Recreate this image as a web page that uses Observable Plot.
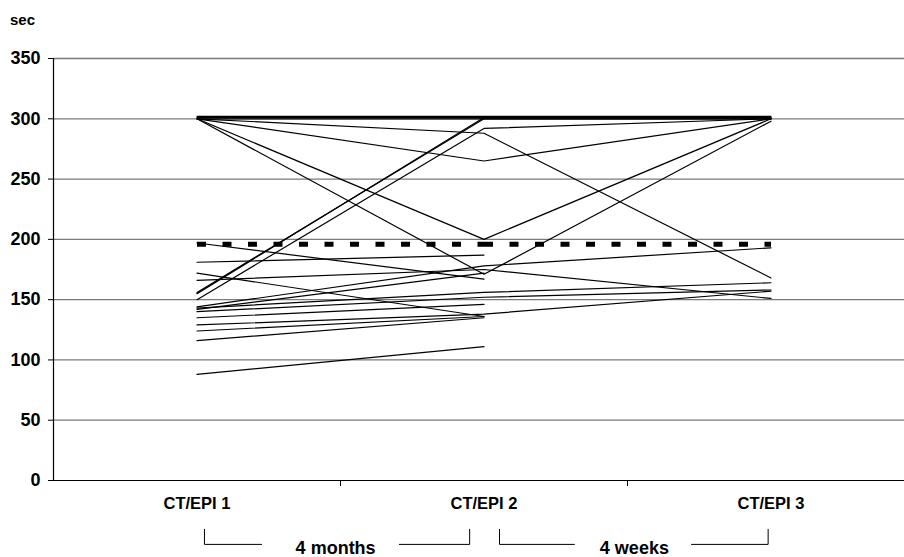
<!DOCTYPE html>
<html><head><meta charset="utf-8">
<script src="https://cdn.jsdelivr.net/npm/d3@7"></script>
<script src="https://cdn.jsdelivr.net/npm/@observablehq/plot@0.6"></script>
<style>
body{margin:0;background:#fff}
svg{font-family:"Liberation Sans",Arial,Helvetica,sans-serif}
</style>
</head><body><div id="chart"></div>
<script>
const sessions = ["CT/EPI 1", "CT/EPI 2", "CT/EPI 3"];
// seconds per subject at each session (null = not measured)
const ct1 = [302, 301, 300, 300, 300, 300, 300, 156, 155, 150, 197, 181, 172, 166, 144, 143, 142, 140, 135, 129, 124, 116, 88];
const ct2 = [302, 301, 300, 288, 265, 200, 171, 300, 301, 292, 167, 187, 136, 175, 178, 156, 172, 152, 146, 138, 136, 135, 111];
const ct3 = [302, 301, 300, 168, 300, 300, 298, 300, 301, 300, null, null, null, 151, 193, 164, null, 158, null, 157, null, null, null];
const meanValue = 196;
const yTicks = [0, 50, 100, 150, 200, 250, 300, 350];
const intervalLabels = ["4 months", "4 weeks"];

const points = [];
ct1.forEach((v, i) => {
  [v, ct2[i], ct3[i]].forEach((val, t) => {
    if (val != null) points.push({subject: i, t, v: val});
  });
});

const meanSegs = [{a: 0, b: 1}, {a: 1, b: 2}];

// bracket annotations below the axis (x in session units, y in axis units below 0)
const brackets = [
  {label: intervalLabels[0], x0: 0.026, g0: 0.225, g1: 0.705, x1: 0.95, mid: 0.483},
  {label: intervalLabels[1], x0: 1.054, g0: 1.315, g1: 1.723, x1: 1.99, mid: 1.524}
];
const bracketTop = -40.5, bracketBot = -53, bracketText = -56.5;
const bracketPaths = [];
brackets.forEach((b, k) => {
  bracketPaths.push({k: k * 2, x: b.x0, y: bracketTop}, {k: k * 2, x: b.x0, y: bracketBot}, {k: k * 2, x: b.g0, y: bracketBot});
  bracketPaths.push({k: k * 2 + 1, x: b.g1, y: bracketBot}, {k: k * 2 + 1, x: b.x1, y: bracketBot}, {k: k * 2 + 1, x: b.x1, y: bracketTop});
});

const plot = Plot.plot({
  width: 904,
  height: 557,
  marginLeft: 53,
  marginRight: 0,
  marginTop: 58,
  marginBottom: 77,
  style: {background: "#fff", fontFamily: "'Liberation Sans', Arial, sans-serif", color: "#000"},
  x: {type: "linear", domain: [-0.5, 2.5], range: [53, 914]},
  y: {domain: [0, 350]},
  marks: [
    Plot.ruleY(yTicks.filter(d => d > 0), {stroke: "#7a7a7a", strokeWidth: 1.3}),
    Plot.line(points, {x: "t", y: "v", z: "subject", stroke: "#000", strokeWidth: 1.2}),
    Plot.link(meanSegs, {x1: "a", x2: "b", y1: () => meanValue, y2: () => meanValue, stroke: "#000", strokeWidth: 5, strokeDasharray: "9,16.5"}),
    Plot.ruleY([0], {stroke: "#000", strokeWidth: 1.2}),
    Plot.ruleX([-0.5], {stroke: "#000", strokeWidth: 1.2}),
    Plot.axisY({ticks: yTicks, tickSize: 5, tickPadding: 8, fontSize: 18, fontWeight: "bold", label: null, tickFormat: d => String(d)}),
    Plot.axisX({ticks: [0.5, 1.5], tickSize: 6, tickFormat: () => "", label: null}),
    Plot.axisX({ticks: [0, 1, 2], tickSize: 0, tickPadding: 17, tickFormat: i => sessions[i], fontSize: 16.5, fontWeight: "bold", label: null}),
    Plot.text(["sec"], {frameAnchor: "top-left", textAnchor: "middle", lineAnchor: "middle", dx: -31, dy: -38, fontSize: 15, fontWeight: "bold"}),
    Plot.line(bracketPaths, {x: "x", y: "y", z: "k", stroke: "#000", strokeWidth: 1}),
    Plot.text(brackets, {x: "mid", y: () => bracketText, text: "label", fontSize: 18, fontWeight: "bold"})
  ]
});
document.getElementById("chart").appendChild(plot);
</script>
</body></html>
